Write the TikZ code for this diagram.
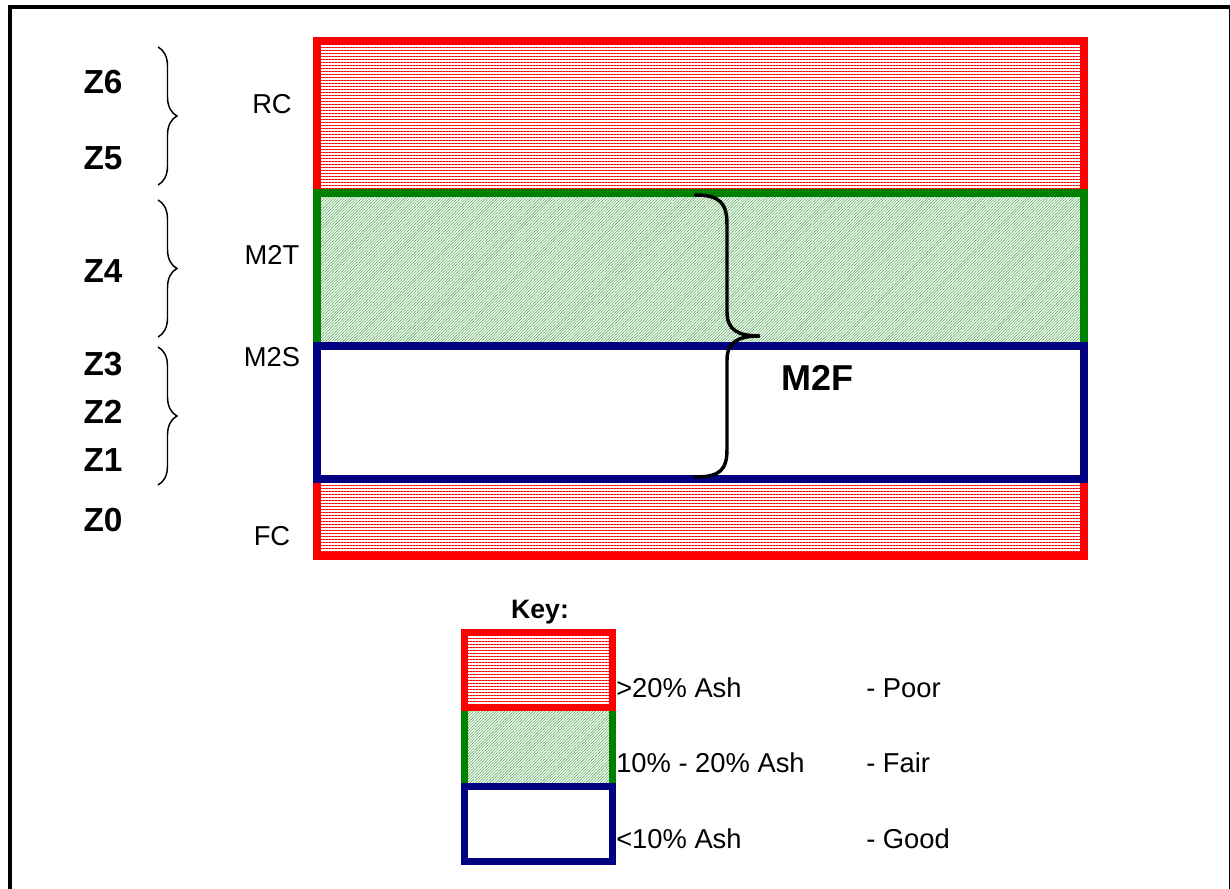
\documentclass[tikz,border=0pt]{standalone}
\usepackage{fontspec}
\setmainfont{Liberation Sans}
\usepackage{tikz}
\usetikzlibrary{patterns.meta,decorations.pathreplacing}
\definecolor{poor}{HTML}{FF0000}
\definecolor{fair}{HTML}{008000}
\definecolor{good}{HTML}{000080}

\begin{document}
\begin{tikzpicture}[
  x=0.75pt, y=-0.75pt,
  font=\fontsize{20.5}{24}\selectfont,
  zone/.style={font=\fontsize{25}{28}\selectfont\bfseries, inner sep=0pt},
  seam/.style={inner sep=0pt},
  poorfill/.style={draw=poor, pattern={Lines[angle=0,distance=2.25pt,line width=0.75pt]}, pattern color=poor},
  fairfill/.style={draw=fair, pattern={Lines[angle=45,distance=1.5pt,line width=0.45pt]}, pattern color=fair!65},
  goodfill/.style={draw=good, fill=white},
  layer/.style={line width=6pt},
  keybox/.style={line width=5.25pt},
  thinbrace/.style={decorate, decoration={brace, amplitude=14.25pt}, line width=1.1pt},
  keytxt/.style={anchor=west, inner sep=0pt}
]
\useasboundingbox (0,0) rectangle (1230,888);

% Outer frame
\draw[line width=3pt] (9.5,900) -- (9.5,7.5) -- (1230.5,7.5) -- (1230.5,900);

% Seam column
\draw[layer, poorfill] (317,41) rectangle (1084,193);
\draw[layer, poorfill] (317,479) rectangle (1084,556);
\draw[layer, fairfill] (317,193) rectangle (1084,346);
\draw[layer, goodfill] (317,346) rectangle (1084,479);

% Zones
\foreach \n/\y in {6/82, 5/158, 4/271, 3/364, 2/412, 1/460, 0/520}
  \node[zone] (z\n) at (103,\y) {Z\n};
\draw[thinbrace] (158,47) -- (158,185);
\draw[thinbrace] (158,200) -- (158,337);
\draw[thinbrace] (158,347) -- (158,485);

% Seam names
\foreach \n/\t/\y in {rc/RC/104, m2t/M2T/255, m2s/M2S/357, fc/FC/536}
  \node[seam] (\n) at (272,\y) {\t};

% M2F brace
\draw[line width=2.6pt, line cap=round]
  (695,195) .. controls (720,195) and (727,203) .. (727,225) -- (727,312)
  .. controls (727,330) and (738,336) .. (760,336)
  .. controls (738,336) and (727,342) .. (727,360) -- (727,449)
  .. controls (727,470) and (720,477) .. (695,477);
\node[zone, font=\fontsize{27}{30}\selectfont\bfseries] (m2f) at (817,378) {M2F};

% Key
\node[font=\fontsize{20}{24}\selectfont\bfseries] (key) at (540,612) {Key:};
\draw[keybox, fairfill] (464,707) rectangle (612,786);
\draw[keybox, poorfill] (464,632) rectangle (612,707);
\draw[keybox, goodfill] (464,786) rectangle (612,861);
\foreach \n/\a/\r/\y in {poor/{>20\% Ash}/Poor/688, fair/{10\% - 20\% Ash}/Fair/763, good/{<10\% Ash}/Good/839} {
  \node[keytxt] (ash\n) at (616,\y) {\a};
  \node[keytxt] (rate\n) at (866,\y) {- \r};
}
\end{tikzpicture}
\end{document}
